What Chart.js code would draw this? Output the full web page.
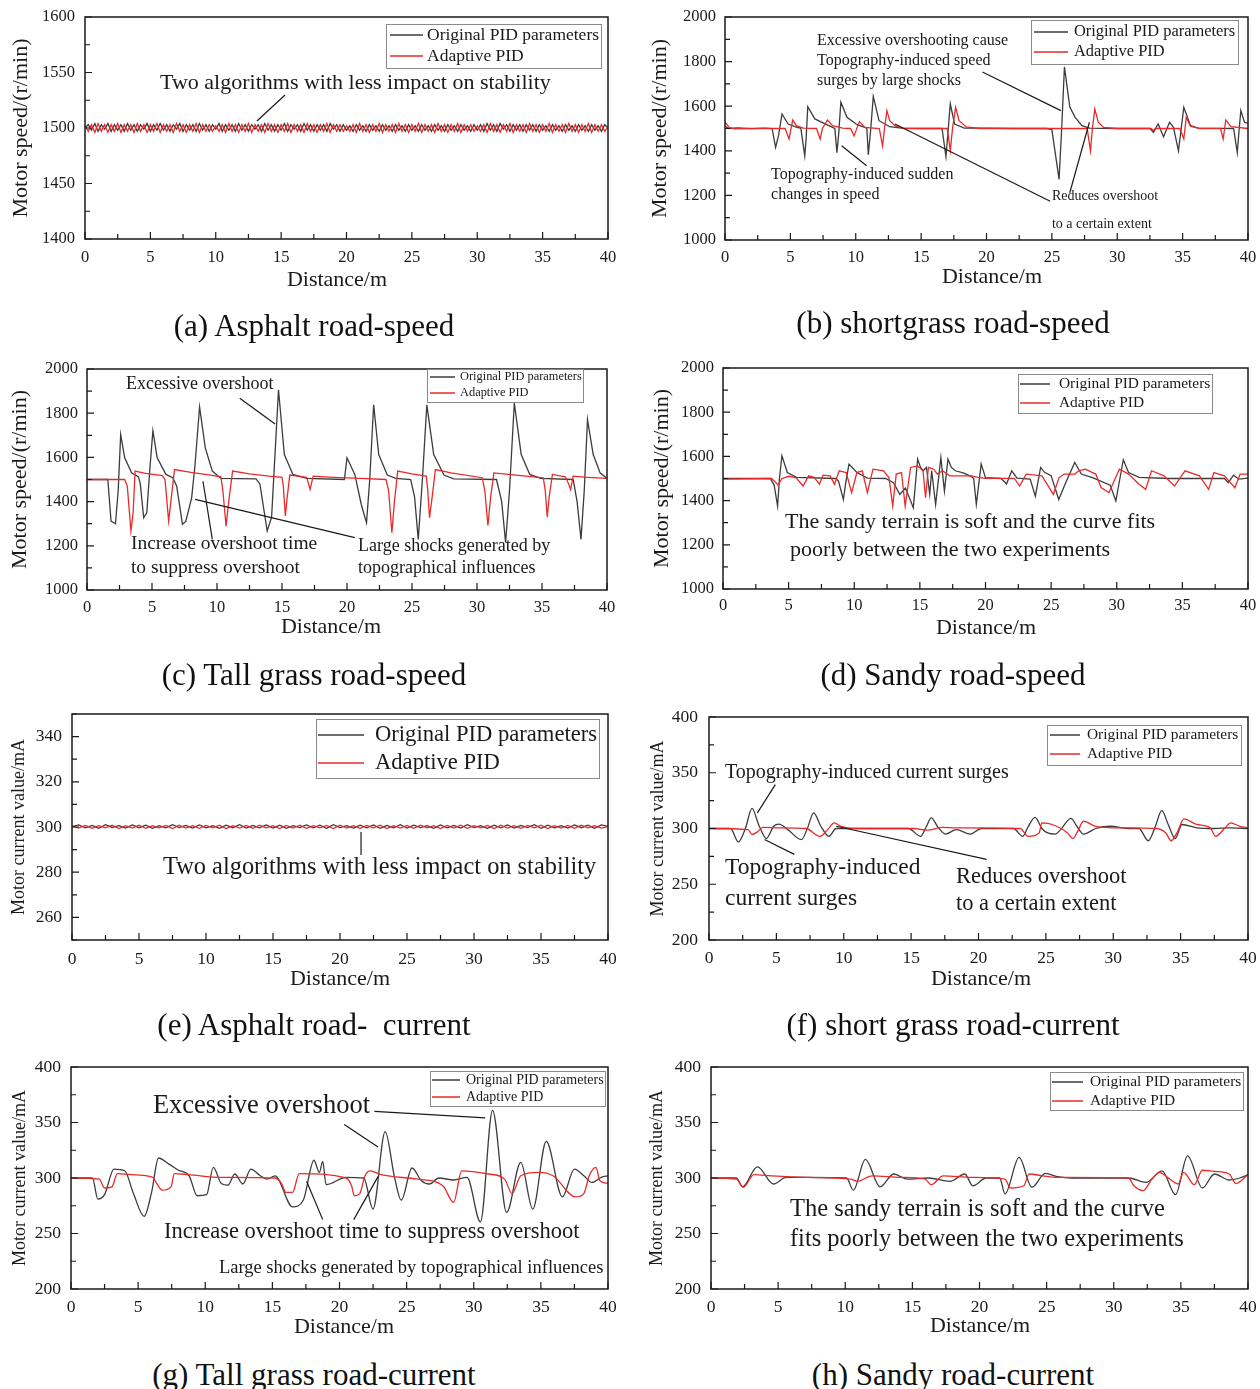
<!DOCTYPE html>
<html>
<head>
<meta charset="utf-8">
<script src="https://cdn.jsdelivr.net/npm/chart.js@4.4.1/dist/chart.umd.min.js"></script>
<style>
  html { overflow: hidden; }
  body { margin: 0; background: #fff; width: 1260px; height: 1389px; position: relative; overflow: hidden; }
  canvas { position: absolute; }
  .cap { position: absolute; transform: translate(-50%, -50%); font: 31px "Liberation Serif", serif; white-space: pre; color: #111; }
</style>
</head>
<body>
<script>
const SERIF = '"Liberation Serif", "DejaVu Serif", serif';
const INK = '#1a1a1a';
const BLACK_LINE = '#3c3c3c';
const RED_LINE = '#ea2a2a';

const seriesNames = ['Original PID parameters', 'Adaptive PID'];
const X_TITLE = 'Distance/m';

// ---- (a) asphalt speed, one sample every 0.25 m
const aStep = 0.25;
const aOrig = [
  1500,1503,1498,1504,1497,1503,1499,1504,1497,1503,1498,1503,1497,1504,1498,1503,1497,1503,1499,1504,
  1497,1503,1498,1504,1498,1503,1497,1503,1499,1504,1497,1503,1498,1503,1497,1504,1498,1503,1497,1503,
  1499,1504,1497,1503,1498,1503,1497,1504,1498,1503,1497,1503,1499,1503,1497,1504,1498,1503,1497,1503,
  1498,1504,1497,1503,1499,1503,1497,1504,1498,1503,1497,1503,1498,1503,1497,1504,1499,1503,1497,1503,
  1498,1502,1497,1503,1498,1502,1497,1503,1498,1502,1497,1503,1498,1502,1497,1503,1498,1502,1497,1503,
  1498,1502,1497,1503,1498,1502,1497,1503,1498,1502,1497,1503,1498,1502,1497,1503,1498,1502,1497,1503,
  1498,1503,1497,1504,1498,1503,1497,1504,1499,1503,1497,1503,1498,1503,1497,1503,1498,1503,1497,1503,
  1498,1502,1497,1503,1498,1502,1497,1503,1498,1502,1497,1503,1498,1502,1497,1503,1498,1502,1497,1503,
  1500
];
const aAdapt = [
  1502,1497,1503,1496,1504,1497,1503,1496,1503,1497,1504,1496,1503,1497,1503,1496,1504,1497,1503,1496,
  1503,1497,1504,1496,1503,1497,1503,1496,1504,1497,1503,1496,1503,1497,1504,1496,1503,1497,1503,1497,
  1502,1497,1503,1496,1504,1497,1503,1496,1503,1497,1504,1496,1503,1497,1503,1496,1504,1497,1503,1496,
  1503,1497,1504,1496,1503,1497,1503,1496,1504,1497,1503,1496,1503,1497,1504,1496,1503,1497,1503,1497,
  1502,1497,1503,1496,1504,1497,1503,1496,1503,1497,1504,1496,1503,1497,1503,1496,1504,1497,1503,1496,
  1503,1497,1504,1496,1503,1497,1503,1496,1504,1497,1503,1496,1503,1497,1504,1496,1503,1497,1503,1497,
  1502,1497,1503,1496,1504,1497,1503,1496,1503,1497,1504,1496,1503,1497,1503,1496,1504,1497,1503,1496,
  1503,1497,1504,1496,1503,1497,1503,1496,1504,1497,1503,1496,1503,1497,1504,1496,1503,1497,1503,1497,
  1501
];

// ---- (b) short grass speed, [distance, speed]
const bOrig = [
  [0,1510],[0.3,1500],[1,1503],[2,1499],[3,1502],[3.6,1500],
  [3.87,1415],[4.1,1470],[4.36,1565],[4.83,1520],[5.5,1505],[5.8,1502],
  [6.1,1377],[6.2,1450],[6.33,1598],[6.87,1543],[7.7,1520],[8.23,1505],[8.4,1500],
  [8.56,1392],[8.7,1480],[8.86,1618],[9.33,1550],[10.1,1517],[10.7,1505],[10.85,1500],
  [10.96,1382],[11.15,1500],[11.34,1644],[11.78,1535],[12.6,1508],[13.5,1502],
  [15,1500],[16.6,1500],[16.9,1374],[17.05,1480],[17.23,1611],[17.56,1520],[18.3,1502],
  [20,1502],[22,1500],[24.6,1500],[25.0,1495],[25.55,1272],[25.75,1500],[25.96,1776],
  [26.37,1596],[26.78,1550],[27.3,1513],[27.87,1502],
  [30,1500],[32.5,1500],[32.77,1483],[33.13,1520],[33.54,1463],[34.0,1528],[34.3,1505],
  [34.68,1400],[34.85,1480],[35.09,1595],[35.6,1513],[36.2,1502],
  [38.9,1500],[39.18,1392],[39.3,1480],[39.45,1580],[39.73,1528],[40,1523]
];
const bAdapt = [
  [0,1528],[0.33,1505],[0.7,1498],[2,1500],[4.6,1500],[4.9,1453],[5.18,1538],[5.45,1513],[6.0,1502],
  [7.0,1500],[7.28,1453],[7.45,1500],[7.83,1538],[8.23,1513],[9.0,1502],
  [9.6,1500],[9.87,1467],[10.28,1531],[10.7,1505],[11.8,1500],
  [12.05,1422],[12.2,1500],[12.38,1580],[12.6,1535],[13.0,1513],[13.7,1500],
  [17.0,1500],[17.23,1400],[17.4,1500],[17.64,1595],[17.9,1535],[18.46,1507],[19.5,1500],
  [27.7,1500],[27.95,1400],[28.1,1500],[28.28,1588],[28.55,1528],[28.96,1505],[30,1500],
  [32.6,1500],[32.75,1490],[32.9,1500],[34.8,1500],[35.09,1453],[35.28,1550],[35.6,1510],[36.3,1500],
  [37.9,1500],[38.1,1453],[38.3,1538],[38.7,1508],[40,1500]
];

// ---- (c) tall grass speed
const cOrig = [
  [0,1500],[1.6,1500],[1.85,1312],[2.19,1300],[2.4,1450],[2.59,1703],[2.9,1598],[3.43,1530],[3.96,1512],[4.1,1480],
  [4.36,1327],[4.6,1350],[4.85,1560],[5.07,1721],[5.4,1598],[6.07,1523],[6.6,1508],[6.9,1470],
  [7.34,1297],[7.6,1310],[8.05,1417],[8.3,1560],[8.66,1828],[9.1,1643],[9.64,1538],[10.3,1505],
  [13.0,1503],[13.3,1480],[13.86,1267],[14.2,1330],[14.45,1600],[14.73,1906],[15.18,1613],[15.84,1523],[16.9,1505],
  [19.8,1500],[20.0,1598],[20.6,1523],[21.1,1387],[21.5,1304],[21.75,1500],[22.05,1838],[22.44,1613],[23.1,1520],[23.76,1505],
  [24.9,1500],[25.2,1420],[25.48,1229],[25.8,1500],[26.14,1838],[26.67,1613],[27.46,1520],[28.2,1503],
  [31.5,1500],[31.9,1400],[32.2,1214],[32.5,1450],[32.87,1846],[33.4,1613],[34.06,1523],[34.9,1505],
  [37.4,1500],[37.7,1400],[38.0,1229],[38.25,1450],[38.5,1771],[38.94,1613],[39.47,1530],[40,1505]
];
const cAdapt = [
  [0,1500],[2.9,1500],[3.1,1470],[3.38,1267],[3.55,1350],[3.7,1538],[4.5,1528],[5.8,1518],[6.0,1500],
  [6.28,1312],[6.45,1400],[6.73,1545],[8,1532],[9.5,1520],[10.3,1512],[10.45,1450],
  [10.7,1289],[10.9,1400],[11.2,1538],[12.5,1525],[14,1515],[15.0,1510],[15.1,1470],
  [15.26,1335],[15.4,1420],[15.6,1520],[16.9,1510],[17.16,1455],[17.4,1515],[19,1510],[21,1505],[23.0,1500],[23.2,1450],
  [23.45,1259],[23.65,1400],[23.9,1538],[25,1525],[26.1,1515],[26.2,1460],
  [26.35,1327],[26.55,1420],[26.8,1545],[28,1530],[30.4,1508],[30.6,1450],
  [30.84,1292],[31.05,1420],[31.3,1530],[33,1520],[35.1,1508],[35.25,1450],
  [35.4,1330],[35.55,1420],[35.8,1523],[36.8,1512],[37.05,1480],[37.2,1455],[37.4,1515],[38.5,1510],[40,1505]
];

// ---- (d) sandy speed
const dOrig = [
  [0,1500],[3.6,1500],[3.9,1470],[4.16,1375],[4.3,1500],[4.49,1603],[4.9,1527],[5.6,1505],
  [8.6,1500],[8.8,1488],[9.17,1405],[9.35,1480],[9.6,1565],[10.2,1527],[11.0,1502],
  [12.4,1500],[13.0,1480],[13.47,1428],[13.9,1457],[14.3,1398],[14.5,1367],[14.83,1588],[15.05,1550],
  [15.25,1535],[15.5,1550],[15.75,1428],[15.9,1535],[16.2,1382],[16.6,1595],[16.87,1443],[17.14,1588],
  [17.4,1550],[17.7,1535],[18.3,1525],[18.9,1510],[19.1,1500],
  [19.3,1383],[19.67,1565],[20.0,1504],[21.2,1500],[21.6,1475],[22.0,1535],[22.4,1502],[23.4,1497],
  [23.8,1420],[24.2,1550],[24.5,1528],[25.0,1513],[25.58,1405],[26.1,1480],[26.8,1573],[27.3,1520],[28.2,1503],
  [29.5,1470],[29.93,1398],[30.5,1585],[30.9,1527],[31.7,1505],[34,1500],
  [38.2,1500],[38.5,1481],[38.9,1515],[39.3,1497],[40,1502]
];
const dAdapt = [
  [0,1497],[3.7,1500],[4.2,1471],[4.49,1500],[5.03,1510],[5.58,1503],[6.1,1466],[6.53,1512],[6.94,1505],
  [7.35,1474],[7.62,1515],[8.16,1512],[8.5,1474],[8.85,1535],[9.39,1527],[9.8,1436],[10.2,1527],[10.61,1535],
  [11.0,1436],[11.43,1542],[12.24,1535],[12.65,1503],[12.93,1375],[13.2,1520],[13.6,1527],[13.88,1375],
  [14.29,1550],[14.83,1557],[15.24,1535],[15.43,1413],[15.65,1550],[16.05,1542],[16.33,1520],[16.73,1535],
  [17.28,1512],[17.8,1512],[18.9,1512],[19.45,1505],[20.0,1501],[22.2,1501],[22.6,1466],[23.1,1520],
  [24.3,1512],[25.17,1428],[25.6,1503],[26.0,1520],[26.8,1520],[27.1,1535],[27.6,1542],[28.4,1520],
  [28.8,1459],[29.4,1436],[30.2,1542],[30.9,1520],[31.7,1474],[32.2,1451],[32.65,1535],[33.6,1512],
  [34.4,1466],[35.2,1535],[36.3,1512],[37.0,1451],[37.4,1527],[38.2,1512],[39.0,1458],[39.4,1520],[40,1520]
];

// ---- (e) asphalt current, one sample every 0.5 m
const eStep = 0.5;
const eOrig = [
  300.2,300.9,299.6,300.7,299.4,301,299.8,300.6,299.5,300.9,
  299.7,300.8,299.4,300.6,299.6,301,299.7,300.7,299.5,300.9,
  299.6,300.6,299.4,300.8,299.7,301,299.5,300.7,299.6,300.9,
  299.5,300.8,299.4,300.6,299.7,300.9,299.6,300.8,299.4,301,
  299.7,300.6,299.5,300.8,299.6,300.9,299.4,300.7,299.6,301,
  299.5,300.8,299.7,300.6,299.4,300.9,299.6,300.7,299.5,301,
  299.7,300.6,299.4,300.8,299.6,300.9,299.5,300.7,299.7,301,
  299.4,300.8,299.6,300.6,299.5,300.9,299.7,300.8,299.4,300.9,
  300.3
];
const eAdapt = [
  300.4,299.5,300.7,299.4,300.6,299.6,300.8,299.3,300.6,299.5,
  300.8,299.4,300.6,299.6,300.7,299.3,300.8,299.5,300.6,299.4,
  300.7,299.6,300.8,299.3,300.6,299.5,300.7,299.4,300.8,299.6,
  300.6,299.3,300.7,299.5,300.8,299.4,300.6,299.6,300.7,299.3,
  300.8,299.5,300.6,299.4,300.7,299.6,300.8,299.3,300.6,299.5,
  300.7,299.4,300.8,299.6,300.6,299.3,300.7,299.5,300.8,299.4,
  300.6,299.6,300.7,299.3,300.8,299.5,300.6,299.4,300.7,299.6,
  300.8,299.3,300.6,299.5,300.7,299.4,300.8,299.6,300.6,299.5,
  300.2
];

// ---- (f) short grass current
const fOrig = [
  [0,300],[1.6,300],[2.18,288],[2.7,300],[3.19,318],[3.7,303],[4.26,291],[4.8,302],[5.19,304],[5.85,299],
  [6.86,290],[7.3,300],[7.77,314],[8.3,302],[8.9,293],[9.44,300],[10.4,300],[14.8,300],[15.7,293],[16.1,301],
  [16.5,309.5],[17.0,301],[17.55,295],[18.35,299],[19.4,295],[20.2,300],[22.6,300],[23.27,293],[23.7,302],
  [24.2,310],[24.7,300],[25.13,296],[25.7,295],[26.1,299],[26.86,309],[27.3,302],[27.8,295],[28.7,300],
  [29.8,302],[31.1,300],[31.9,300],[32.6,289],[33.1,301],[33.6,316],[34.1,303],[34.6,291],[35.1,303.6],
  [36.2,300.6],[37.5,300],[38.6,300.6],[40,300]
];
const fAdapt = [
  [0,300],[2.9,299],[3.19,294.6],[3.6,297],[4.0,301],[5.3,300.6],[7.2,300],[8.24,293],[8.8,299],[9.3,305],
  [9.8,302],[10.9,300],[15.2,300],[16.2,298.5],[17.3,301],[18.4,300.6],[23.1,300],[23.67,293],[24.5,296],
  [24.7,305],[25.8,302],[26.6,296],[27.0,291],[27.3,296],[27.8,306.5],[28.7,302],[30.6,300.6],[33.2,300],
  [33.9,296],[34.3,289],[34.8,298],[35.24,308.6],[36.2,303.6],[37.2,300.6],[37.6,293],[38.3,300.6],
  [38.7,305],[39.4,302],[40,300.6]
];

// ---- (g) tall grass current
const gOrig = [
  [0,300],[1.6,300],[2.0,281],[2.5,285],[3.2,308],[4.0,306.5],[4.65,286],[5.45,265.5],[6.0,287],[6.52,318],
  [7.3,312.5],[8.0,307],[8.8,302],[9.4,284],[10.1,285],[10.6,309.5],[11.2,295],[11.7,293.5],[12.2,303.6],
  [12.8,294.6],[13.4,308],[14.1,302],[14.6,299],[15.2,302],[16.5,274],[17.3,280],[18.1,316],[18.5,305],
  [18.75,315],[19.0,294],[20.5,300.6],[21.8,300],[22.5,272],[23.4,341.7],[24.1,300.6],[24.6,280],[25.4,309],
  [26.1,297.6],[26.7,294.6],[27.4,300],[28.5,298.2],[29.5,300.6],[30.5,260.4],[31.4,361],[32.45,269],
  [33.5,314],[34.4,272],[35.4,333],[36.6,283],[37.5,308],[38.2,302],[38.8,296],[39.5,300.6],[40,302]
];
const gAdapt = [
  [0,300],[2.1,299],[2.5,291],[3.05,292],[3.45,304],[4.5,303],[6.1,300.6],[6.4,294.6],[6.8,289],[7.45,292],
  [7.7,304],[8.8,303],[11.2,300.6],[15.2,300],[15.7,294.6],[16.0,287],[16.5,287],[17.0,304],[20.5,300],
  [20.9,293],[21.1,284],[21.5,285.7],[21.9,302],[22.3,306.5],[23.1,303],[25.8,299],[27.7,293],[28.5,278],
  [29.1,306.5],[31.1,303.6],[32.3,299],[32.85,286],[33.5,302],[34.8,305],[35.9,302],[37.6,283],[38.2,286],
  [38.6,302],[39.1,309.5],[39.4,297.6],[40,295.2]
];

// ---- (h) sandy current
const hOrig = [
  [0,300],[1.5,300],[1.9,300],[2.34,292],[3.46,310],[4.65,294.6],[5.6,300.6],[7.2,300.6],[10.1,300],
  [10.6,289],[11.5,316.7],[12.6,292],[13.6,303.6],[14.6,299],[16.2,300],[17.8,297],[18.9,303.6],[19.5,293],
  [20.5,300],[21.5,300],[21.9,285.7],[22.95,318.5],[23.9,291.7],[24.9,304.2],[25.8,301.2],[26.9,300],
  [31.1,300],[32.4,296],[33.6,306.5],[34.6,285],[35.5,320],[36.6,291],[37.5,303.6],[38.6,298.2],[39.4,300],[40,303]
];
const hAdapt = [
  [0,300],[1.9,299],[2.4,291.7],[3.2,303],[4.5,302],[7.2,300.6],[10.4,299],[10.9,297],[12.0,302],[14.1,300.6],
  [15.95,299],[16.4,294],[17.3,302],[19.4,300.6],[21.9,299],[22.3,291],[23.3,293],[23.7,303.6],[24.7,302],
  [25.8,300.6],[31.1,300],[31.5,293],[32.2,288.7],[32.85,299],[33.4,305],[34.0,300.6],[34.8,294.6],[35.2,305],
  [36.0,294],[36.6,307],[37.5,306],[38.6,303.6],[39.1,295],[40,303]
];

const sampled = (vals, step) => vals.map((v, i) => ({ x: i * step, y: v }));
const pairs = (list) => list.map(([x, y]) => ({ x, y }));

const SPEED = 'Motor speed/(r/min)';
const CURRENT = 'Motor current value/mA';

// frame around the plot plus inward tick marks on the bottom and left
const framePlugin = {
  id: 'frame',
  afterDatasetsDraw(chart) {
    const { ctx, chartArea: a, scales: { x, y } } = chart;
    ctx.save();
    ctx.strokeStyle = INK;
    ctx.lineWidth = 1.5;
    ctx.strokeRect(a.left, a.top, a.right - a.left, a.bottom - a.top);
    ctx.lineWidth = 1.2;
    ctx.beginPath();
    x.ticks.forEach(t => {
      const px = x.getPixelForValue(t.value);
      const n = t.label ? 7 : 5;
      ctx.moveTo(px, a.bottom);
      ctx.lineTo(px, a.bottom - n);
    });
    y.ticks.forEach(t => {
      const py = y.getPixelForValue(t.value);
      const n = t.label ? 7 : 5;
      ctx.moveTo(a.left, py);
      ctx.lineTo(a.left + n, py);
    });
    ctx.stroke();
    ctx.restore();
  }
};

function legendBox(o) {
  return {
    id: 'legendBox',
    afterDraw(chart) {
      const { ctx, chartArea: a } = chart;
      const left = a.right - o.right - o.w;
      const top = a.top + o.top;
      ctx.save();
      ctx.fillStyle = '#fff';
      ctx.fillRect(left, top, o.w, o.h);
      ctx.strokeStyle = '#8a8a8a';
      ctx.lineWidth = 1;
      ctx.strokeRect(left + 0.5, top + 0.5, o.w, o.h);
      ctx.font = o.size + 'px ' + SERIF;
      ctx.textBaseline = 'middle';
      chart.data.datasets.forEach((ds, i) => {
        const yy = top + o.rows[i];
        ctx.strokeStyle = ds.borderColor;
        ctx.lineWidth = 1.5;
        ctx.beginPath();
        ctx.moveTo(left + o.line[0], yy);
        ctx.lineTo(left + o.line[1], yy);
        ctx.stroke();
        ctx.fillStyle = INK;
        ctx.fillText(ds.label, left + o.text, yy);
      });
      ctx.restore();
    }
  };
}

// callout texts and leader lines, placed in data units
function notesLayer(notes) {
  return {
    id: 'notes',
    afterDatasetsDraw(chart) {
      const { ctx, scales: { x, y } } = chart;
      ctx.save();
      ctx.strokeStyle = INK;
      ctx.lineWidth = 1.2;
      (notes.lines || []).forEach(([x1, y1, x2, y2]) => {
        ctx.beginPath();
        ctx.moveTo(x.getPixelForValue(x1), y.getPixelForValue(y1));
        ctx.lineTo(x.getPixelForValue(x2), y.getPixelForValue(y2));
        ctx.stroke();
      });
      ctx.fillStyle = INK;
      ctx.textBaseline = 'middle';
      notes.texts.forEach(([s, tx, ty, size]) => {
        ctx.font = size + 'px ' + SERIF;
        ctx.fillText(s, x.getPixelForValue(tx), y.getPixelForValue(ty));
      });
      ctx.restore();
    }
  };
}

// x axis title, drawn by hand because it is not always centred under the plot
function xTitleLayer(cx, cy) {
  return {
    id: 'xTitle',
    afterDraw(chart) {
      const ctx = chart.ctx;
      ctx.save();
      ctx.font = '22px ' + SERIF;
      ctx.fillStyle = INK;
      ctx.textAlign = 'center';
      ctx.textBaseline = 'middle';
      ctx.fillText(X_TITLE, cx, cy);
      ctx.restore();
    }
  };
}

function panel(p) {
  const [L, R, T, B] = p.box;
  const cw = p.col === 0 ? 635 : 640;   // extra room right so the "40" label never squeezes the plot
  const cy = T - 28;                     // room above for the top y label
  const ch = Math.round(p.xTitleY + 22 * 0.6 - cy);
  const cv = document.createElement('canvas');
  cv.width = cw;
  cv.height = ch;
  cv.style.left = p.col + 'px';
  cv.style.top = cy + 'px';
  document.body.appendChild(cv);

  const line = (label, data, color, order) => ({
    label, data, borderColor: color, borderWidth: 1.3, pointRadius: 0, fill: false, order,
    tension: p.smooth ? 0.35 : 0, cubicInterpolationMode: p.smooth ? 'monotone' : 'default'
  });

  new Chart(cv, {
    type: 'line',
    data: {
      datasets: [
        line(seriesNames[0], p.orig, BLACK_LINE, 1),
        line(seriesNames[1], p.adapt, RED_LINE, 0)
      ]
    },
    options: {
      responsive: false,
      animation: false,
      devicePixelRatio: 1,
      layout: { padding: { left: 0, top: T - cy, right: p.col + cw - R, bottom: 0 } },
      plugins: { legend: { display: false }, tooltip: { enabled: false } },
      scales: {
        x: {
          type: 'linear', min: 0, max: 40,
          afterFit: s => { s.height = cy + ch - B; },
          grid: { display: false, drawTicks: false },
          border: { display: false },
          ticks: {
            stepSize: 2.5, autoSkip: false, maxRotation: 0,
            padding: p.xLabelY - B - p.tick * 0.6,
            color: INK, font: { family: SERIF, size: p.tick },
            callback: v => (v % 5 === 0 ? String(v) : '')
          },
          title: { display: false }
        },
        y: {
          min: p.y[0], max: p.y[1],
          afterFit: s => { s.width = L - p.col; },
          grid: { display: false, drawTicks: false },
          border: { display: false },
          ticks: {
            stepSize: p.y[2], autoSkip: false,
            padding: L - p.yLabelRight,
            color: INK, font: { family: SERIF, size: p.tick },
            callback: v => (v % p.y[3] === 0 ? String(v) : '')
          },
          title: {
            display: true, text: p.yTitle, color: INK,
            font: { family: SERIF, size: p.yTitleSize },
            padding: { top: p.yTitleX - p.col - p.yTitleSize * 0.6, bottom: 0 }
          }
        }
      }
    },
    plugins: [notesLayer(p.notes), framePlugin, legendBox(p.legend), xTitleLayer(p.xTitleX - p.col, p.xTitleY - cy)]
  });
}

const panels = [
  { // (a)
    col: 0, box: [85, 608, 17, 239], y: [1400, 1600, 25, 50], yTitle: SPEED, yTitleSize: 22, yTitleX: 21.7,
    yLabelRight: 75, tick: 16.5, xLabelY: 258, xTitleX: 337, xTitleY: 280,
    orig: sampled(aOrig, aStep), adapt: sampled(aAdapt, aStep),
    legend: { right: 7, top: 7, w: 215, h: 44, rows: [11, 32], line: [4, 37], text: 41, size: 17.5 },
    notes: {
      texts: [['Two algorithms with less impact on stability', 5.74, 1540.5, 22]],
      lines: [[13.15, 1506.3, 15.3, 1529.7]]
    }
  },
  { // (b)
    col: 640, box: [725, 1248, 17, 240], y: [1000, 2000, 100, 200], yTitle: SPEED, yTitleSize: 22, yTitleX: 660,
    yLabelRight: 716, tick: 16.5, xLabelY: 258, xTitleX: 992, xTitleY: 277,
    orig: pairs(bOrig), adapt: pairs(bAdapt),
    legend: { right: 10, top: 3, w: 207, h: 44, rows: [12, 32], line: [3, 37], text: 43, size: 16.4 },
    notes: {
      texts: [
        ['Excessive overshooting cause', 7.04, 1892, 16],
        ['Topography-induced speed', 7.04, 1803, 16],
        ['surges by large shocks', 7.04, 1713, 16],
        ['Topography-induced sudden', 3.52, 1291, 16],
        ['changes in speed', 3.52, 1202, 16],
        ['Reduces overshoot', 25.0, 1197, 14],
        ['to a certain extent', 25.0, 1072, 14]
      ],
      lines: [[19.69, 1753, 25.69, 1580], [8.92, 1423, 10.83, 1333], [13.0, 1520, 24.87, 1174], [27.87, 1528, 26.37, 1212]]
    }
  },
  { // (c)
    col: 0, box: [87, 607, 369, 590], y: [1000, 2000, 100, 200], yTitle: SPEED, yTitleSize: 22, yTitleX: 20,
    yLabelRight: 78, tick: 16.5, xLabelY: 608, xTitleX: 331, xTitleY: 627,
    orig: pairs(cOrig), adapt: pairs(cAdapt),
    legend: { right: 24, top: 0, w: 156, h: 33, rows: [8, 24], line: [3, 28], text: 33, size: 12.4 },
    notes: {
      texts: [
        ['Excessive overshoot', 3.0, 1932, 18],
        ['Increase overshoot time', 3.38, 1208, 19.5],
        ['to suppress overshoot', 3.38, 1100, 19.5],
        ['Large shocks generated by', 20.85, 1199, 18],
        ['topographical influences', 20.85, 1100, 18]
      ],
      lines: [[11.75, 1868, 14.47, 1751], [9.64, 1229, 8.92, 1492], [20.6, 1237, 8.32, 1410]]
    }
  },
  { // (d)
    col: 640, box: [723, 1248, 368, 589], y: [1000, 2000, 100, 200], yTitle: SPEED, yTitleSize: 22, yTitleX: 662,
    yLabelRight: 714, tick: 16.5, xLabelY: 606, xTitleX: 986, xTitleY: 628,
    orig: pairs(dOrig), adapt: pairs(dAdapt),
    legend: { right: 36, top: 6, w: 194, h: 39, rows: [10, 29], line: [2, 32], text: 41, size: 15.4 },
    notes: {
      texts: [
        ['The sandy terrain is soft and the curve fits', 4.72, 1303, 22],
        ['poorly between the two experiments', 5.1, 1176, 22]
      ]
    }
  },
  { // (e)
    col: 0, box: [72, 608, 714, 940], y: [250, 350, 10, 20], yTitle: CURRENT, yTitleSize: 18, yTitleX: 19,
    yLabelRight: 62, tick: 17.5, xLabelY: 959, xTitleX: 340, xTitleY: 979,
    orig: sampled(eOrig, eStep), adapt: sampled(eAdapt, eStep),
    legend: { right: 9, top: 5, w: 283, h: 59, rows: [16, 44], line: [2, 48], text: 59, size: 22.6 },
    notes: {
      texts: [['Two algorithms with less impact on stability', 6.79, 281.9, 24.4]],
      lines: [[21.57, 297.8, 21.57, 287.6]]
    }
  },
  { // (f)
    col: 640, box: [709, 1248, 717, 940], y: [200, 400, 25, 50], yTitle: CURRENT, yTitleSize: 18, yTitleX: 658,
    yLabelRight: 698, tick: 17.5, xLabelY: 958, xTitleX: 981, xTitleY: 979, smooth: true,
    orig: pairs(fOrig), adapt: pairs(fAdapt),
    legend: { right: 7, top: 8, w: 194, h: 40, rows: [10, 29], line: [3, 33], text: 40, size: 15.4 },
    notes: {
      texts: [
        ['Topography-induced current surges', 1.19, 349.8, 20],
        ['Topography-induced', 1.19, 264.6, 23.5],
        ['current surges', 1.19, 236.8, 23.5],
        ['Reduces overshoot', 18.33, 256.5, 22.5],
        ['to a certain extent', 18.33, 232.3, 22.5]
      ],
      lines: [[3.59, 314, 4.92, 339.3], [4.12, 290.2, 6.33, 276.8], [9.44, 302, 20.6, 272.3]]
    }
  },
  { // (g)
    col: 0, box: [71, 608, 1067, 1289], y: [200, 400, 25, 50], yTitle: CURRENT, yTitleSize: 18, yTitleX: 20,
    yLabelRight: 61, tick: 17.5, xLabelY: 1307, xTitleX: 344, xTitleY: 1327, smooth: true,
    orig: pairs(gOrig), adapt: pairs(gAdapt),
    legend: { right: 3, top: 4, w: 175, h: 35, rows: [9, 26], line: [2, 30], text: 36, size: 14 },
    notes: {
      texts: [
        ['Excessive overshoot', 6.1, 364.9, 26.5],
        ['Increase overshoot time to suppress overshoot', 6.93, 251.3, 22.5],
        ['Large shocks generated by topographical influences', 11.02, 218.9, 18.5]
      ],
      lines: [[22.6, 360.1, 30.85, 354.2], [20.35, 348.2, 22.87, 328], [18.75, 262.5, 17.55, 297], [21.06, 262.5, 22.87, 301.2]]
    }
  },
  { // (h)
    col: 640, box: [711, 1248, 1067, 1289], y: [200, 400, 25, 50], yTitle: CURRENT, yTitleSize: 18, yTitleX: 657,
    yLabelRight: 701, tick: 17.5, xLabelY: 1307, xTitleX: 980, xTitleY: 1326, smooth: true,
    orig: pairs(hOrig), adapt: pairs(hAdapt),
    legend: { right: 5, top: 5, w: 193, h: 38, rows: [10, 29], line: [2, 33], text: 40, size: 15.4 },
    notes: {
      texts: [
        ['The sandy terrain is soft and the curve', 5.88, 271.2, 24.5],
        ['fits poorly between the two experiments', 5.88, 244.1, 24.5]
      ]
    }
  }
];

panels.forEach(panel);

const captions = [
  ['(a) Asphalt road-speed', 314, 326],
  ['(b) shortgrass road-speed', 953, 323],
  ['(c) Tall grass road-speed', 314, 675],
  ['(d) Sandy road-speed', 953, 675],
  ['(e) Asphalt road-  current', 314, 1025],
  ['(f) short grass road-current', 953, 1025],
  ['(g) Tall grass road-current', 314, 1375],
  ['(h) Sandy road-current', 953, 1375]
];
captions.forEach(([text, x, y]) => {
  const d = document.createElement('div');
  d.className = 'cap';
  d.textContent = text;
  d.style.left = x + 'px';
  d.style.top = y + 'px';
  document.body.appendChild(d);
});
</script>
</body>
</html>
